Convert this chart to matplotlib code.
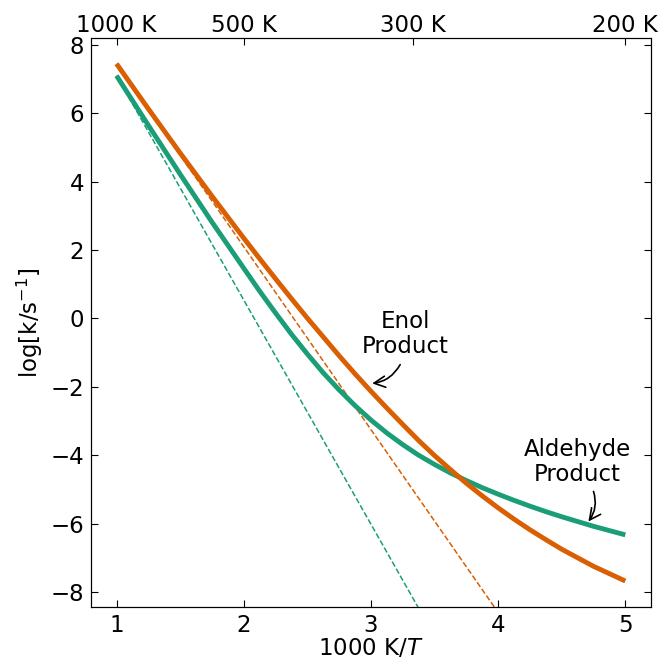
import numpy as np
import matplotlib
matplotlib.use("Agg")
import matplotlib.pyplot as plt

plt.rcParams['font.family'] = ['DejaVu Sans']
plt.rcParams['mathtext.fontset'] = 'dejavusans'

# values (x = 1000 K / T, y = log k)
inv_t = [1.0, 1.25, 1.5, 1.75, 2.0, 2.125, 2.25, 2.375, 2.5, 2.625, 2.75,
         2.875, 3.0, 3.125, 3.25, 3.375, 3.5, 3.625, 3.75, 3.875, 4.0,
         4.125, 4.25, 4.375, 4.5, 4.75, 5.0]
enol = [7.45, 6.13, 4.84, 3.58, 2.35, 1.75, 1.16, 0.58, 0.01, -0.54, -1.09,
        -1.62, -2.13, -2.62, -3.10, -3.57, -4.01, -4.42, -4.82, -5.19, -5.54,
        -5.87, -6.18, -6.47, -6.75, -7.25, -7.68]
aldehyde = [7.10, 5.65, 4.22, 2.82, 1.47, 0.80, 0.16, -0.46, -1.04, -1.59, -2.09,
            -2.55, -2.97, -3.35, -3.69, -4.00, -4.27, -4.52, -4.74, -4.95, -5.14,
            -5.32, -5.49, -5.65, -5.80, -6.08, -6.33]

# classical (no tunnelling) straight lines, endpoints
enol_cl_x = [1.0, 4.0]
enol_cl_y = [7.45, -8.60]
ald_cl_x = [1.0, 3.40]
ald_cl_y = [7.10, -8.64]

top_ticks = [1.0, 2.0, 1000 / 300, 5.0]
top_labels = ['1000 K', '500 K', '300 K', '200 K']

orange = '#d95f02'
green = '#1b9e77'
fs = 16.5

fig = plt.figure(figsize=(6.6, 6.6), dpi=100)
ax = fig.add_axes([0.138, 0.0803, 0.848, 0.862])

ax.plot(enol_cl_x, enol_cl_y, ls='--', lw=1.1, c=orange)
ax.plot(ald_cl_x, ald_cl_y, ls='--', lw=1.1, c=green)
ax.plot(inv_t, aldehyde, lw=3.5, c=green, solid_capstyle='butt')
ax.plot(inv_t, enol, lw=3.5, c=orange, solid_capstyle='butt')

ax.set_xlim(0.8, 5.2)
ax.set_ylim(-8.44, 8.2)
ax.set_xticks([1, 2, 3, 4, 5])
ax.set_yticks(np.arange(-8, 9, 2))
ax.tick_params(direction='in', labelsize=fs, right=True, length=5, pad=5)
ax.set_xlabel('1000 K/$T$', fontsize=fs, labelpad=0)
ax.set_ylabel('log[k/s$^{-1}$]', fontsize=fs, labelpad=4)

top = ax.twiny()
top.set_xlim(ax.get_xlim())
top.set_xticks(top_ticks)
top.set_xticklabels(top_labels)
top.tick_params(direction='in', labelsize=fs, length=5, pad=1)

arrow = dict(arrowstyle='->', color='k', lw=1.2, mutation_scale=20,
             shrinkA=0, shrinkB=0, connectionstyle='arc3,rad=-0.25')

ax.text(3.27, -0.45, 'Enol\nProduct', fontsize=fs, ha='center', va='center',
        linespacing=1.1)
ax.annotate('', xy=(3.01, -1.90), xytext=(3.23, -1.35), arrowprops=arrow)

ax.text(4.62, -4.2, 'Aldehyde\nProduct', fontsize=fs, ha='center', va='center',
        linespacing=1.1)
ax.annotate('', xy=(4.71, -5.94), xytext=(4.75, -5.06), arrowprops=arrow)

fig.savefig('out.png', dpi=100)
